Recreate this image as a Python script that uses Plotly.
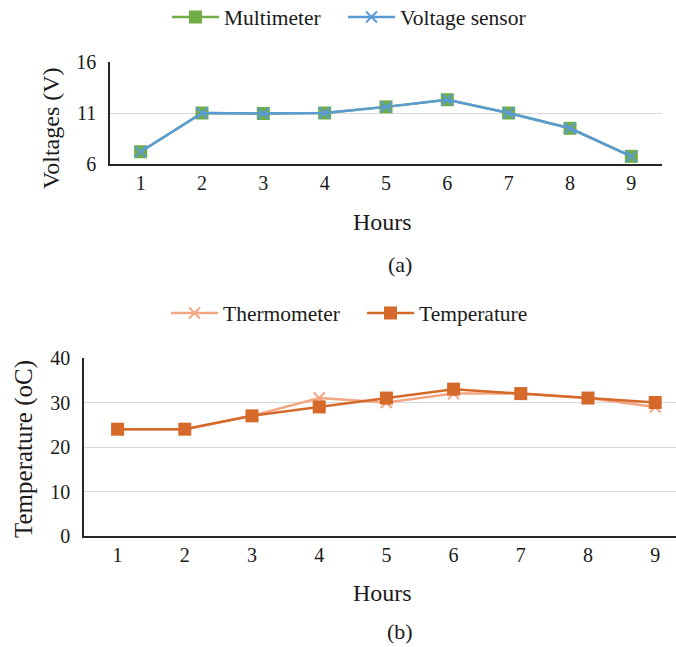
import plotly.graph_objects as go

hours = [1, 2, 3, 4, 5, 6, 7, 8, 9]
multimeter = [7.2, 11.0, 10.95, 11.0, 11.6, 12.3, 11.0, 9.5, 6.75]
voltage_sensor = [7.2, 11.0, 10.95, 11.0, 11.6, 12.3, 11.0, 9.5, 6.75]
thermometer = [24, 24, 27, 31, 30, 32, 32, 31, 29]
temperature = [24, 24, 27, 29, 31, 33, 32, 31, 30]

W, H = 676, 647
FONT = "Liberation Serif, Times New Roman, serif"
TXT = "#1a1a1a"

def px(x):
    return x / W

def py(y):
    return 1 - y / H

fig = go.Figure()

fig.add_trace(go.Scatter(x=hours, y=multimeter, name="Multimeter", mode="lines+markers",
                         line=dict(color="#70AD47", width=2.5),
                         marker=dict(symbol="square", size=13, color="#70AD47"),
                         xaxis="x", yaxis="y", legend="legend"))
fig.add_trace(go.Scatter(x=hours, y=voltage_sensor, name="Voltage sensor", mode="lines+markers",
                         line=dict(color="#5B9BD5", width=2.5),
                         marker=dict(symbol="x-thin", size=11, color="#5B9BD5",
                                     line=dict(color="#5B9BD5", width=2)),
                         xaxis="x", yaxis="y", legend="legend3"))
fig.add_trace(go.Scatter(x=hours, y=thermometer, name="Thermometer", mode="lines+markers",
                         line=dict(color="#F4A582", width=2.5),
                         marker=dict(symbol="x-thin", size=11, color="#F4A582",
                                     line=dict(color="#F4A582", width=2)),
                         xaxis="x2", yaxis="y2", legend="legend2"))
fig.add_trace(go.Scatter(x=hours, y=temperature, name="Temperature", mode="lines+markers",
                         line=dict(color="#D5692A", width=2.5),
                         marker=dict(symbol="square", size=13, color="#D5692A"),
                         xaxis="x2", yaxis="y2", legend="legend4"))

axis_common = dict(showline=True, linecolor="#262626", linewidth=1.5, ticks="",
                   zeroline=False, tickfont=dict(family=FONT, size=20, color=TXT))

def leg(x, y):
    return dict(orientation="h", x=px(x), y=py(y), xanchor="left", yanchor="middle",
                font=dict(family=FONT, size=21.5, color=TXT), itemwidth=47,
                bgcolor="rgba(0,0,0,0)")

fig.update_layout(
    width=W, height=H,
    margin=dict(l=0, r=0, t=0, b=0, autoexpand=False),
    paper_bgcolor="white", plot_bgcolor="white",
    font=dict(family=FONT, size=21, color=TXT),
    xaxis=dict(domain=[px(110), px(662)], range=[0.5, 9.5], tickvals=hours,
               showgrid=False, anchor="y", **axis_common),
    yaxis=dict(domain=[py(164), py(62)], range=[6, 16], tickvals=[6, 11, 16],
               showgrid=True, gridcolor="#D9D9D9", gridwidth=1.2, anchor="x",
               ticklabelstandoff=8, **axis_common),
    xaxis2=dict(domain=[px(84), 1], range=[0.5, 0.5 + (676 - 84) / 67.2], tickvals=hours,
                showgrid=False, anchor="y2", **axis_common),
    yaxis2=dict(domain=[py(536), py(358)], range=[0, 40], tickvals=[0, 10, 20, 30, 40],
                showgrid=True, gridcolor="#D9D9D9", gridwidth=1.2, anchor="x2",
                ticklabelstandoff=8, **axis_common),
    legend=leg(167, 17),
    legend3=leg(343, 17),
    legend2=leg(166, 313),
    legend4=leg(362, 313),
    showlegend=True,
)

annots = [
    ("Hours", 382, 222, 0, 24),
    ("(a)", 400, 264, 0, 22),
    ("Hours", 382, 593, 0, 24),
    ("(b)", 400, 631, 0, 22),
    ("Voltages (V)", 51, 128, -90, 24),
    ("Temperature (oC)", 24, 449, -90, 25),
]
for text, x, y, ang, sz in annots:
    fig.add_annotation(text=text, x=px(x), y=py(y), xref="paper", yref="paper",
                       showarrow=False, textangle=ang, xanchor="center", yanchor="middle",
                       font=dict(family=FONT, size=sz, color=TXT))

fig.write_html("out.html")
